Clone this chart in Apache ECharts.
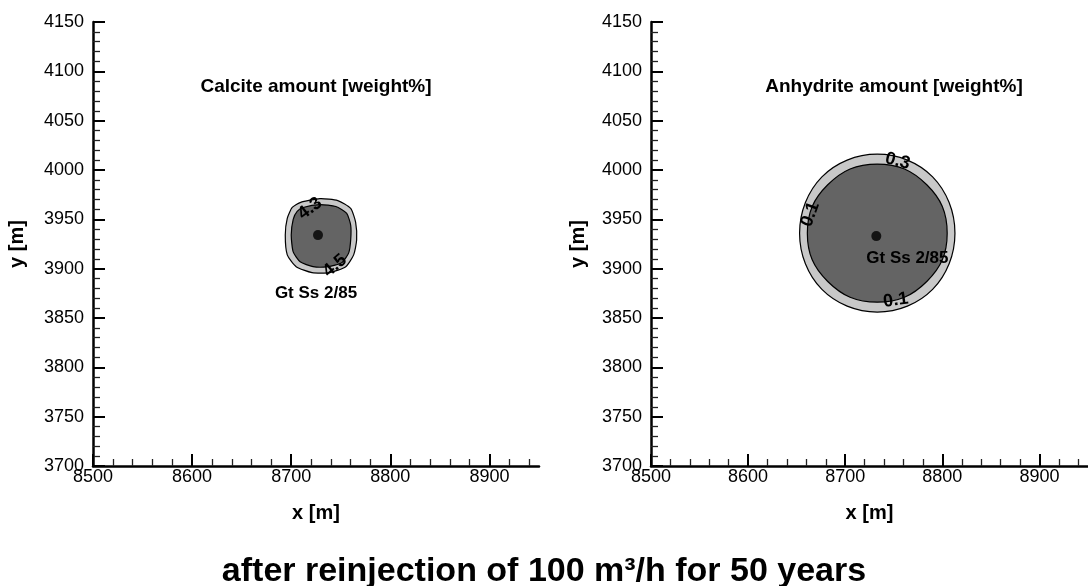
<!DOCTYPE html>
<html>
<head>
<meta charset="utf-8">
<script src="https://cdn.jsdelivr.net/npm/echarts@6/dist/echarts.min.js"></script>
<style>
html, body { margin: 0; padding: 0; background: #fff; }
#main { width: 1088px; height: 586px; }
</style>
</head>
<body>
<div id="main"></div>
<script>
// axis ticks
var xTicks = [8500, 8600, 8700, 8800, 8900];
var xMinor = [8520, 8540, 8560, 8580, 8620, 8640, 8660, 8680, 8720, 8740, 8760, 8780, 8820, 8840, 8860, 8880, 8920, 8940];

// well Gt Ss 2/85
var wellLeft = [[8727, 3934]];
var wellRight = [[8732, 3933]];
var wellName = ['Gt Ss 2/85'];
var wellLabelLeft = [[8725, 3875]];
var wellLabelRight = [[8764, 3910]];

// calcite contours
var calciteOuter = [[8709,3967],[8729,3971],[8747,3969],[8760,3961],[8765,3947],[8766,3929],[8763,3914],[8755,3902],[8739,3896],[8721,3896],[8705,3902],[8696,3914],[8694,3934],[8696,3951],[8701,3962]];
var calciteInner = [[8712,3962],[8729,3965],[8745,3963],[8756,3956],[8760,3944],[8760,3929],[8758,3916],[8751,3906],[8737,3902],[8722,3902],[8709,3907],[8702,3917],[8700,3934],[8702,3950],[8706,3958]];
var calciteLabels = [[8719, 3961], [8744, 3903]];
var calciteLabelText = ['4.3', '4.5'];
var calciteLabelRot = [0.65, 0.7];

// anhydrite contours
var anhydriteOuter = [[8813,3936],[8807,3967],[8790,3993],[8764,4010],[8733,4016],[8702,4010],[8676,3993],[8659,3967],[8653,3936],[8659,3905],[8676,3879],[8702,3862],[8733,3856],[8764,3862],[8790,3879],[8807,3905]];
var anhydriteInner = [[8805,3936],[8800,3963],[8784,3985],[8761,4001],[8733,4006],[8705,4001],[8682,3985],[8666,3963],[8661,3936],[8666,3909],[8682,3887],[8705,3871],[8733,3866],[8761,3871],[8784,3887],[8800,3909]];
var anhydriteLabels = [[8754, 4009], [8664, 3955], [8752, 3868]];
var anhydriteLabelText = ['0.3', '0.1', '0.1'];
var anhydriteLabelRot = [-0.26, 1.22, 0.14];

var FONT = '"Liberation Sans", Arial, sans-serif';

var dom = document.getElementById('main');
var myChart = echarts.init(dom);

function polySeries(idx, pts, fill, smooth) {
    return {
        type: 'custom',
        xAxisIndex: idx * 2,
        yAxisIndex: idx,
        data: [pts[0]],
        silent: true,
        renderItem: function (params, api) {
            return {
                type: 'polygon',
                shape: { points: pts.map(function (p) { return api.coord(p); }), smooth: smooth },
                style: { fill: fill, stroke: '#000', lineWidth: 1.2 }
            };
        }
    };
}

function labelSeries(idx, pts, texts, rots, size) {
    return {
        type: 'custom',
        xAxisIndex: idx * 2,
        yAxisIndex: idx,
        data: pts,
        silent: true,
        z: 5,
        renderItem: function (params, api) {
            var c = api.coord([api.value(0), api.value(1)]);
            return {
                type: 'text',
                x: c[0], y: c[1],
                rotation: rots[params.dataIndex],
                style: {
                    text: texts[params.dataIndex],
                    fill: '#000',
                    font: 'bold ' + size + 'px ' + FONT,
                    align: 'center',
                    verticalAlign: 'middle'
                }
            };
        }
    };
}

function wellSeries(idx, pt) {
    return {
        type: 'scatter',
        xAxisIndex: idx * 2,
        yAxisIndex: idx,
        data: pt,
        symbolSize: 10,
        itemStyle: { color: '#000' },
        silent: true,
        z: 6
    };
}

function plain(v) { return String(v); }

function xMain(gi) {
    return {
        type: 'value', gridIndex: gi, min: 8500, max: 8950, position: 'bottom',
        name: 'x [m]', nameLocation: 'middle', nameGap: 37,
        nameTextStyle: { color: '#000', fontWeight: 'bold', fontSize: 20, fontFamily: FONT },
        axisLine: { show: true, onZero: false, lineStyle: { color: '#000', width: 2.5 } },
        axisTick: { show: true, inside: true, length: 12, customValues: xTicks, lineStyle: { color: '#000', width: 2 } },
        axisLabel: { customValues: xTicks, formatter: plain, color: '#000', fontSize: 18, margin: 2, fontFamily: FONT },
        splitLine: { show: false }
    };
}

function xMinorAxis(gi) {
    return {
        type: 'value', gridIndex: gi, min: 8500, max: 8950, position: 'bottom',
        axisLine: { show: false },
        axisTick: { show: true, inside: true, length: 7, customValues: xMinor, lineStyle: { color: '#222', width: 1.3 } },
        axisLabel: { show: false },
        splitLine: { show: false }
    };
}

function yMain(gi, gap) {
    return {
        type: 'value', gridIndex: gi, min: 3700, max: 4150, interval: 50,
        name: 'y [m]', nameLocation: 'middle', nameGap: gap,
        nameTextStyle: { color: '#000', fontWeight: 'bold', fontSize: 20, fontFamily: FONT },
        axisLine: { show: true, onZero: false, lineStyle: { color: '#000', width: 2.5 } },
        axisTick: { show: true, inside: true, length: 12, lineStyle: { color: '#000', width: 2 } },
        minorTick: { show: true, splitNumber: 5, length: 7, lineStyle: { color: '#222', width: 1.3 } },
        axisLabel: { formatter: plain, color: '#000', fontSize: 18, margin: 9, fontFamily: FONT },
        splitLine: { show: false }
    };
}

var option = {
    animation: false,
    backgroundColor: '#fff',
    title: [
        { text: 'Calcite amount [weight%]', left: 311, top: 72, textAlign: 'center',
          textStyle: { color: '#000', fontWeight: 'bold', fontSize: 19, fontFamily: FONT } },
        { text: 'Anhydrite amount [weight%]', left: 889, top: 72, textAlign: 'center',
          textStyle: { color: '#000', fontWeight: 'bold', fontSize: 19, fontFamily: FONT } },
        { text: 'after reinjection of 100 m³/h for 50 years', left: 'center', top: 550,
          textStyle: { color: '#000', fontWeight: 'bold', fontSize: 34, fontFamily: FONT } }
    ],
    grid: [
        { left: 93, top: 22, width: 446, height: 444 },
        { left: 651, top: 22, width: 439, height: 444 }
    ],
    xAxis: [xMain(0), xMinorAxis(0), xMain(1), xMinorAxis(1)],
    yAxis: [yMain(0, 66), yMain(1, 63)],
    series: [
        polySeries(0, calciteOuter, '#c8c8c8', 0.2),
        polySeries(0, calciteInner, '#646464', 0.2),
        labelSeries(0, calciteLabels, calciteLabelText, calciteLabelRot, 18),
        polySeries(1, anhydriteOuter, '#c8c8c8', 0.3),
        polySeries(1, anhydriteInner, '#646464', 0.3),
        labelSeries(1, anhydriteLabels, anhydriteLabelText, anhydriteLabelRot, 18),
        wellSeries(0, wellLeft),
        wellSeries(1, wellRight),
        labelSeries(0, wellLabelLeft, wellName, [0], 17),
        labelSeries(1, wellLabelRight, wellName, [0], 17)
    ]
};

if (option && typeof option === "object") {
    myChart.setOption(option, true);
}
</script>
</body>
</html>
